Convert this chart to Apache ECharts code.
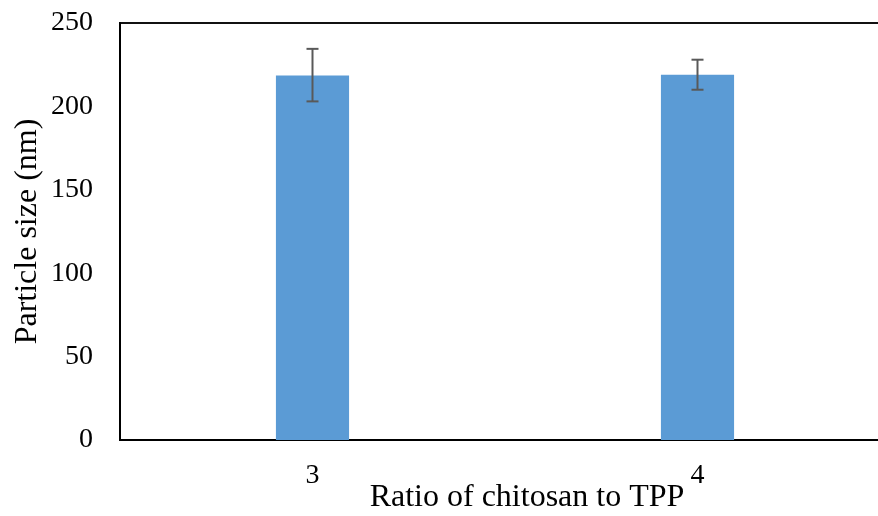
<!DOCTYPE html>
<html>
<head>
<meta charset="utf-8">
<script src="https://cdn.jsdelivr.net/npm/echarts@6/dist/echarts.min.js"></script>
<style>
  html, body { margin: 0; padding: 0; background: #fff; }
  #chart { width: 878px; height: 516px; }
</style>
</head>
<body>
<div id="chart"></div>
<script>
// chitosan:TPP ratio vs particle size
const ratios = ['3', '4'];
const sizes = [218.5, 219];
const errLow = [203, 210];
const errHigh = [234.5, 228];
const yTicks = [0, 50, 100, 150, 200, 250];

const serif = '"Liberation Serif", "DejaVu Serif", serif';
const chart = echarts.init(document.getElementById('chart'));

chart.setOption({
  animation: false,
  grid: {
    left: 120,
    top: 23,
    width: 770,
    height: 417,
    outerBoundsMode: 'none',
    containLabel: false,
    show: true,
    borderColor: '#111',
    borderWidth: 2
  },
  xAxis: {
    type: 'category',
    data: ratios,
    name: 'Ratio of chitosan to TPP',
    nameLocation: 'middle',
    nameGap: 42,
    nameMoveOverlap: false,
    // the plot runs past the right edge, so nudge the title toward the visible middle
    nameTextStyle: { fontFamily: serif, fontSize: 32, color: '#000', padding: [0, 0, 0, 44] },
    axisLine: { lineStyle: { color: '#000', width: 2 } },
    axisTick: { show: false },
    axisLabel: { fontFamily: serif, fontSize: 28, color: '#000', margin: 22 }
  },
  yAxis: {
    type: 'value',
    min: yTicks[0],
    max: yTicks[yTicks.length - 1],
    interval: 50,
    name: 'Particle size (nm)',
    nameLocation: 'middle',
    nameGap: 76,
    nameMoveOverlap: false,
    nameTextStyle: { fontFamily: serif, fontSize: 32, color: '#000' },
    axisLine: { show: true, lineStyle: { color: '#000', width: 2 } },
    axisTick: { show: false },
    splitLine: { show: false },
    axisLabel: { fontFamily: serif, fontSize: 28, color: '#000', margin: 27 }
  },
  series: [
    {
      type: 'bar',
      data: sizes,
      barWidth: '19%',
      itemStyle: { color: '#5B9BD5' }
    },
    {
      type: 'custom',
      data: ratios.map((r, i) => [i, errLow[i], errHigh[i]]),
      renderItem(params, api) {
        const lo = api.coord([api.value(0), api.value(1)]);
        const hi = api.coord([api.value(0), api.value(2)]);
        const half = 6;
        const style = { stroke: '#595959', lineWidth: 2 };
        return {
          type: 'group',
          children: [
            { type: 'line', shape: { x1: lo[0], y1: lo[1], x2: hi[0], y2: hi[1] }, style },
            { type: 'line', shape: { x1: hi[0] - half, y1: hi[1], x2: hi[0] + half, y2: hi[1] }, style },
            { type: 'line', shape: { x1: lo[0] - half, y1: lo[1], x2: lo[0] + half, y2: lo[1] }, style }
          ]
        };
      },
      z: 5
    }
  ]
});
</script>
</body>
</html>
